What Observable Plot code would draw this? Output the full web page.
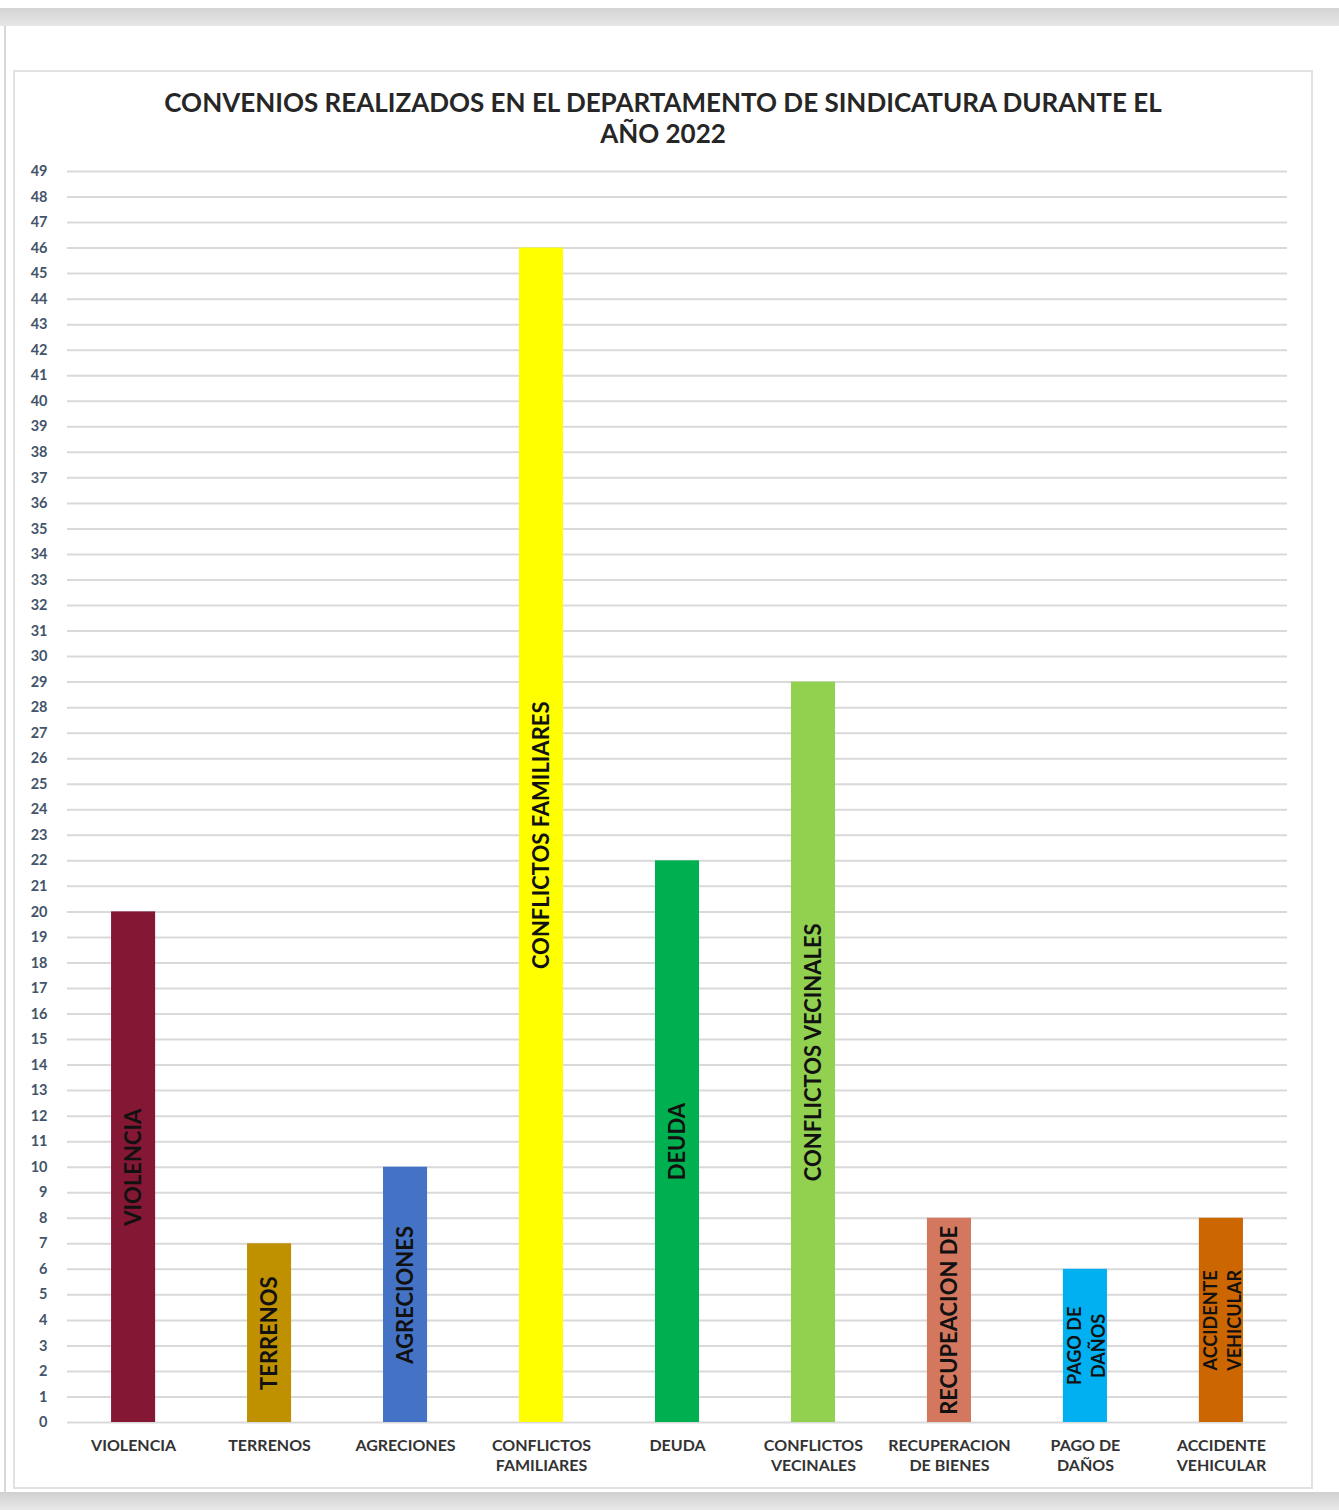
<!DOCTYPE html>
<html>
<head>
<meta charset="utf-8">
<script src="https://cdn.jsdelivr.net/npm/d3@7"></script>
<script src="https://cdn.jsdelivr.net/npm/@observablehq/plot@0.6"></script>
<style>
  html, body { margin: 0; padding: 0; background: #fff; }
  body { width: 1339px; height: 1510px; position: relative; overflow: hidden; font-family: Lato, "Open Sans", sans-serif; }
  #topband { position: absolute; left: 0; top: 8px; width: 1339px; height: 18px; background: linear-gradient(#d4d4d4, #e6e6e6); }
  #botband { position: absolute; left: 0; top: 1492px; width: 1339px; height: 18px; background: linear-gradient(#d0d0d0, #e8e8e8); }
  #page { position: absolute; left: 4px; top: 26px; width: 1335px; height: 1466px; border-left: 2px solid #d8d8d8; }
  #frame { position: absolute; left: 13px; top: 70px; width: 1296px; height: 1415px; border: 2px solid #e2e2e2; background: #fff; }
  #title { position: absolute; left: 0; top: 15px; width: 1296px; text-align: center; font-weight: 700; font-size: 26px; line-height: 31px; color: #262626; }
  #chart { position: absolute; left: -2px; top: 78px; }
</style>
</head>
<body>
<div id="topband"></div>
<div id="page"></div>
<div id="frame">
  <div id="title">CONVENIOS REALIZADOS EN EL DEPARTAMENTO DE SINDICATURA DURANTE EL<br>AÑO 2022</div>
  <div id="chart"></div>
</div>
<div id="botband"></div>
<script>
const categories = ["VIOLENCIA", "TERRENOS", "AGRECIONES", "CONFLICTOS FAMILIARES", "DEUDA", "CONFLICTOS VECINALES", "RECUPERACION DE BIENES", "PAGO DE DAÑOS", "ACCIDENTE VEHICULAR"];
const values = [20, 7, 10, 46, 22, 29, 8, 6, 8];
const colors = ["#841733", "#BF9000", "#4472C4", "#FFFF00", "#00B050", "#92D050", "#D4775F", "#00B0F0", "#CC6600"];
const tickLabels = ["VIOLENCIA", "TERRENOS", "AGRECIONES", "CONFLICTOS\nFAMILIARES", "DEUDA", "CONFLICTOS\nVECINALES", "RECUPERACION\nDE BIENES", "PAGO DE\nDAÑOS", "ACCIDENTE\nVEHICULAR"];
const barLabels = ["VIOLENCIA", "TERRENOS", "AGRECIONES", "CONFLICTOS FAMILIARES", "DEUDA", "CONFLICTOS VECINALES", "RECUPEACION DE", "PAGO DE\nDAÑOS", "ACCIDENTE\nVEHICULAR"];
const yTicks = d3.range(0, 50);

const data = categories.map((c, i) => ({cat: c, value: values[i], color: colors[i], tick: tickLabels[i], label: barLabels[i]}));
const tickMap = new Map(data.map(d => [d.cat, d.tick]));
const single = data.filter(d => !d.label.includes("\n"));
const double = data.filter(d => d.label.includes("\n"));

const chart = Plot.plot({
  width: 1298,
  height: 1332,
  marginTop: 21,
  marginBottom: 60,
  marginLeft: 54,
  marginRight: 24,
  style: {fontFamily: "Lato, 'Open Sans', sans-serif", background: "transparent"},
  x: {domain: categories, paddingInner: 0.676, paddingOuter: 0.324, round: false, label: null},
  y: {domain: [0, 49], label: null},
  marks: [
    Plot.ruleY(yTicks, {stroke: "#d9d9d9", strokeWidth: 2}),
    Plot.axisY({ticks: yTicks, tickSize: 0, tickPadding: 20, fontSize: 14.5, fontWeight: 700, fill: "#44546A", label: null}),
    Plot.axisX({tickSize: 0, tickPadding: 14, fontSize: 16, fontWeight: 700, fill: "#333", lineHeight: 1.25, tickFormat: d => tickMap.get(d), label: null}),
    Plot.barY(data, {x: "cat", y: "value", fill: "color"}),
    Plot.text(single, {x: "cat", y: d => d.value / 2, text: "label", rotate: -90, fontSize: 22, fontWeight: 700, fill: "#111"}),
    Plot.text(double, {x: "cat", y: d => d.value / 2, text: "label", rotate: -90, fontSize: 18, fontWeight: 700, fill: "#111", lineHeight: 1.3})
  ]
});
document.getElementById("chart").appendChild(chart);
</script>
</body>
</html>
